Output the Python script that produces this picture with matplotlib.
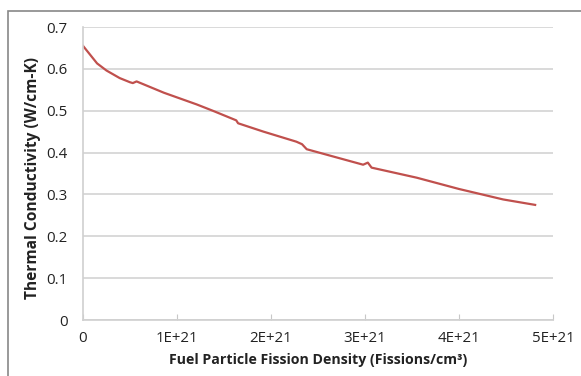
import matplotlib
matplotlib.use("Agg")
import matplotlib.pyplot as plt
from matplotlib.patches import Rectangle

fission_density_e21 = [0, 0.15, 0.25, 0.39, 0.5, 0.53, 0.57, 0.86, 1.21, 1.38, 1.63, 1.65,
                       1.92, 2.27, 2.33, 2.38, 2.98, 3.03, 3.07, 3.55, 3.90, 4.0, 4.47, 4.81]
thermal_conductivity = [0.655, 0.613, 0.596, 0.578, 0.568, 0.566, 0.570, 0.543, 0.515, 0.500,
                        0.477, 0.470, 0.450, 0.426, 0.420, 0.408, 0.371, 0.376, 0.364, 0.340,
                        0.319, 0.313, 0.288, 0.275]
x_ticks = [0, 1e21, 2e21, 3e21, 4e21, 5e21]
x_tick_labels = ["0", "1E+21", "2E+21", "3E+21", "4E+21", "5E+21"]
y_ticks = [0, 0.1, 0.2, 0.3, 0.4, 0.5, 0.6, 0.7]
y_tick_labels = ["0", "0.1", "0.2", "0.3", "0.4", "0.5", "0.6", "0.7"]

plt.rcParams['font.family'] = ['Open Sans', 'DejaVu Sans']

W, H = 581, 376
fig = plt.figure(figsize=(W / 100, H / 100), dpi=100)
# axes: x from 83 to 553, y from 27 (top) to 320 (bottom)
ax = fig.add_axes([83 / W, 1 - 320 / H, (553 - 83) / W, (320 - 27) / H])

xs = [v * 1e21 for v in fission_density_e21]
ax.plot(xs, thermal_conductivity, color="#c0504d", lw=1.6)

ax.set_xlim(0, 5e21)
ax.set_ylim(0, 0.7)
ax.set_xticks(x_ticks)
ax.set_xticklabels(x_tick_labels)
ax.set_yticks(y_ticks)
ax.set_yticklabels(y_tick_labels)
ax.grid(axis="y", color="#d9d9d9", lw=1.4)
ax.set_axisbelow(True)
for s in ["top", "right"]:
    ax.spines[s].set_visible(False)
ax.spines["left"].set_color("#d0d0d0")
ax.spines["bottom"].set_color("#d0d0d0")
ax.spines["left"].set_linewidth(1.2)
ax.spines["bottom"].set_linewidth(1.2)
ax.tick_params(axis="x", direction="in", length=4, color="#c8c8c8", labelsize=10.8,
               labelcolor="#222222", pad=8)
ax.tick_params(axis="y", length=0, labelsize=10.8, labelcolor="#222222", pad=11)

ax.set_xlabel("Fuel Particle Fission Density (Fissions/cm³)", fontsize=10.2,
              fontweight="bold", color="#222222", labelpad=5)
ax.set_ylabel("Thermal Conductivity (W/cm-K)", fontsize=11.2, fontweight="bold",
              color="#222222", labelpad=4)
ax.yaxis.set_label_coords(34 / W - 83 / W, (320 - 178) / (320 - 27),
                          transform=None) if False else None
ax.yaxis.label.set_position((0, (320 - 178) / (320 - 27)))

fig.patches.append(Rectangle((7.5 / W, -0.1), 1.2, 1 - 10.5 / H + 0.1, transform=fig.transFigure,
                             fill=False, edgecolor="#888888", lw=1.2))

fig.savefig("out.png", dpi=100)
